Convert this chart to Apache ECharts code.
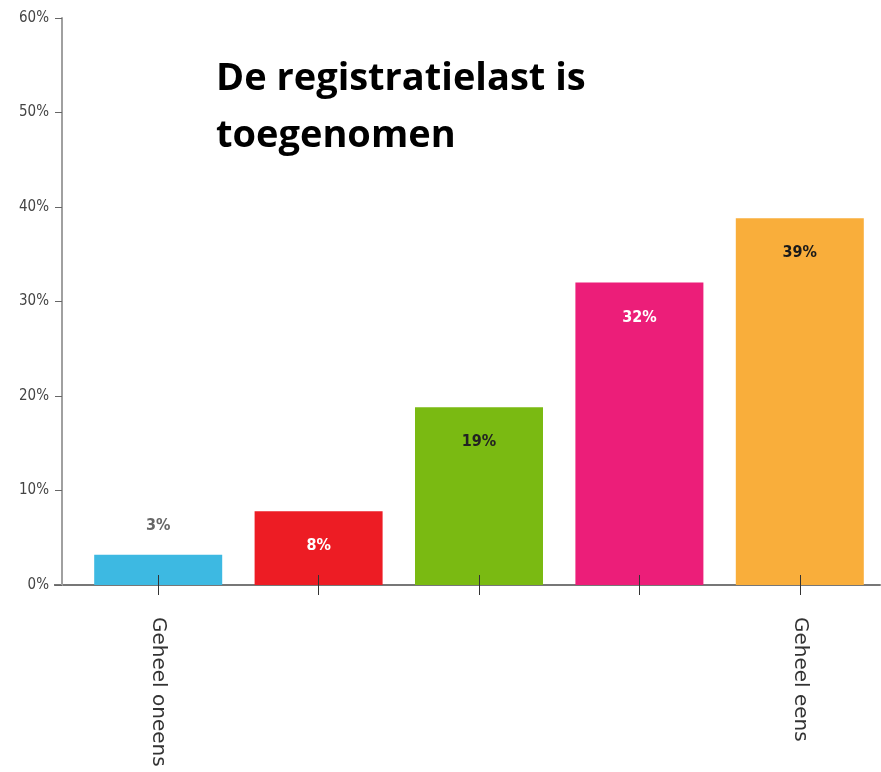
<!DOCTYPE html>
<html>
<head>
<meta charset="utf-8">
<script src="https://cdn.jsdelivr.net/npm/echarts@6/dist/echarts.min.js"></script>
<style>html,body{margin:0;padding:0;background:#fff;}#c{width:881px;height:772px;}</style>
</head>
<body>
<div id="c"></div>
<script>
var categories = ["Geheel oneens", "", "", "", "Geheel eens"];
var values = [3.2, 7.8, 18.8, 32.0, 38.8];
var valueLabels = ["3%", "8%", "19%", "32%", "39%"];
var barColors = ["#3db9e2", "#ed1c24", "#7aba12", "#ec1e79", "#f9ae3b"];
var labelColors = ["#666666", "#ffffff", "#222222", "#ffffff", "#1a1a1a"];
var yTicks = [0, 10, 20, 30, 40, 50, 60];

var chart = echarts.init(document.getElementById('c'), null, {renderer: 'canvas'});
var narrow = '"Liberation Sans Narrow", "DejaVu Sans Condensed", sans-serif';

var data = values.map(function (v, i) {
  return {
    value: v,
    itemStyle: {color: barColors[i]},
    label: {
      show: true,
      formatter: valueLabels[i],
      color: labelColors[i],
      position: i === 0 ? 'top' : 'insideTop',
      distance: i === 0 ? 21 : 27
    }
  };
});

chart.setOption({
  animation: false,
  title: {
    text: 'De registratielast is\ntoegenomen',
    left: 211,
    top: 46,
    textStyle: {
      fontFamily: '"Open Sans", "Liberation Sans", sans-serif',
      fontWeight: 'bold',
      fontSize: 38,
      color: '#000',
      lineHeight: 57
    }
  },
  grid: {left: 78, right: 1, top: 18, bottom: 187, containLabel: false},
  xAxis: [{
    type: 'category',
    data: categories,
    axisLine: {show: true, lineStyle: {color: '#777', width: 2}},
    axisTick: {show: true, alignWithLabel: true, length: 10, lineStyle: {color: '#333', width: 1}},
    axisLabel: {
      interval: 0,
      rotate: -90,
      margin: 32,
      fontSize: 20,
      color: '#333',
      fontFamily: '"DejaVu Sans", sans-serif'
    }
  }, {
    type: 'category',
    data: categories,
    position: 'bottom',
    z: 5,
    axisLine: {show: false},
    axisTick: {show: true, inside: true, alignWithLabel: true, length: 10, lineStyle: {color: '#333', width: 1}},
    axisLabel: {show: false}
  }],
  yAxis: {
    type: 'value',
    min: yTicks[0],
    max: yTicks[yTicks.length - 1],
    interval: 10,
    offset: 16,
    splitLine: {show: false},
    axisLine: {show: true, lineStyle: {color: '#a0a0a0', width: 2}},
    axisTick: {show: true, length: 7, lineStyle: {color: '#666', width: 1}},
    axisLabel: {
      formatter: '{value}%',
      margin: 13,
      fontSize: 15,
      color: '#444',
      fontFamily: narrow
    }
  },
  series: [{
    type: 'bar',
    xAxisIndex: 0,
    data: data,
    barWidth: 128,
    label: {
      fontFamily: narrow,
      fontWeight: 'bold',
      fontSize: 16
    }
  }]
});

// extend the x-axis baseline left to meet the offset y-axis
var p0 = chart.convertToPixel({xAxisIndex: 0, yAxisIndex: 0}, [0, 0]);
chart.setOption({
  graphic: [{
    type: 'line',
    shape: {x1: 54, y1: p0[1], x2: 79, y2: p0[1]},
    style: {stroke: '#777', lineWidth: 2},
    silent: true
  }]
});
</script>
</body>
</html>
